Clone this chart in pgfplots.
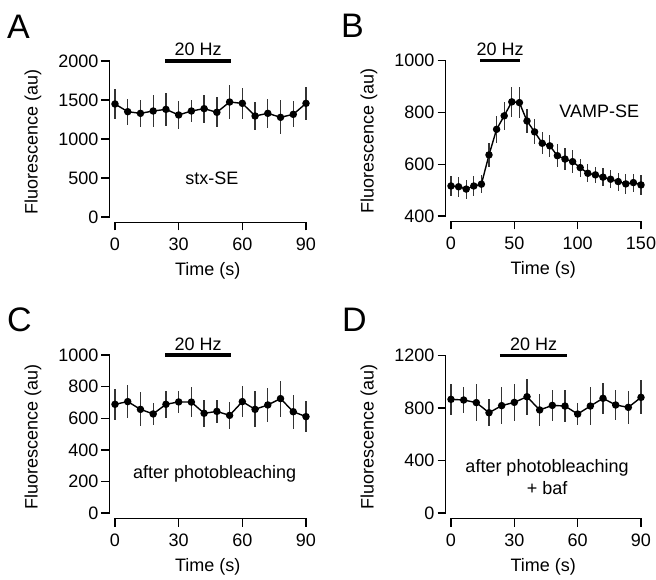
\documentclass[border=0pt]{standalone}
\usepackage{pgfplots}
\pgfplotsset{compat=1.18}
\usepackage{pgfplotstable}
\usepackage{fontspec}
\setmainfont{Liberation Sans}

% t = time (s), f = fluorescence (au), e = error
\pgfplotstableread{
t f e
0 1449 188
6 1350 167
12 1329 171
18 1359 209
24 1380 213
30 1308 177
36 1359 139
42 1389 180
48 1342 192
54 1474 213
60 1457 197
66 1295 175
72 1329 182
78 1278 216
84 1316 167
90 1457 209
}\stxdata

\pgfplotstableread{
t f e
0 516 39
6 513 39
12 504 37
18 516 39
24 523 35
30 636 45
36 735 52
42 787 55
48 841 58
54 838 61
60 767 48
66 725 48
72 681 42
78 671 42
84 633 45
90 620 42
96 610 45
102 587 35
108 565 35
114 559 32
120 550 35
126 542 35
132 533 35
138 524 39
144 529 35
150 520 39
}\vampdata

\pgfplotstableread{
t f e
0 688 97
6 705 105
12 656 108
18 627 70
24 688 86
30 703 70
36 702 93
42 631 86
48 643 74
54 618 84
60 705 97
66 656 114
72 684 105
78 724 114
84 641 108
90 610 97
}\pbdata

\pgfplotstableread{
t f e
0 867 117
6 862 102
12 842 140
18 765 104
24 819 140
30 844 140
36 887 137
42 786 120
48 821 117
54 816 120
60 755 86
66 816 145
72 875 117
78 824 117
84 806 127
90 882 130
}\bafdata

\pgfplotsset{
  panel/.style={
    scale only axis,
    clip=false,
    axis x line*=bottom,
    axis y line*=left,
    axis line style={draw=none},
    every tick/.style={black, line width=1.4pt},
    major tick length=8pt,
    tick align=outside,
    font=\fontsize{18}{21}\selectfont,
    /pgf/number format/assume math mode=true,
    /pgf/number format/1000 sep={},
    yticklabel style={xshift=0.5pt},
    xticklabel style={yshift=-4pt},
    xlabel={Time (s)},
    ylabel={Fluorescence (au)},
    xlabel style={at={(axis description cs:0.5,0)}, anchor=center, yshift=-48pt},
    ylabel style={at={(axis description cs:0,0.5)}, anchor=center, yshift=76.5pt},
  },
  series/.style={black, line width=1.4pt, mark=*, mark size=3pt,
    mark options={fill=black, draw=black},
    error bars/.cd, y dir=both, y explicit, error mark=none,
    error bar style={line width=1.3pt, black!80}},
}
\tikzset{
  axln/.style={line width=1.4pt, line cap=rect},
  stim/.style={line width=3.5pt},
  letter/.style={font=\fontsize{34}{36}\selectfont, anchor=base west, inner sep=0pt},
}

\begin{document}
\begin{tikzpicture}
\useasboundingbox (0,0) rectangle (656pt,579pt);
\node[letter] at (7pt,540pt) {A};
\node[letter] at (341pt,541pt) {B};
\node[letter] at (7pt,247pt) {C};
\node[letter] at (342pt,247pt) {D};

% A
\begin{axis}[panel, at={(109.5pt,356.5pt)}, width=196.5pt, height=161.5pt,
  xmin=-2.59, xmax=90, ymin=-70.5, ymax=2000,
  xtick={0,30,60,90}, ytick={0,500,1000,1500,2000}]
\addplot[series] table[x=t, y=f, y error=e] {\stxdata};
\draw[axln] (axis cs:-2.59,0) -- (axis cs:-2.59,2000);
\draw[axln] (axis cs:0,-70.5) -- (axis cs:90,-70.5);
\draw[stim] (axis cs:23.6,2000) -- (axis cs:54.7,2000)
  node[midway, anchor=base, yshift=5pt] {20 Hz};
\node at (axis cs:45.6,500) {stx-SE};
\end{axis}

% B
\begin{axis}[panel, at={(445.5pt,357.5pt)}, width=195.5pt, height=160.8pt,
  xmin=-4.34, xmax=150, ymin=378.75, ymax=1000,
  xtick={0,50,100,150}, ytick={400,600,800,1000}]
\addplot[series] table[x=t, y=f, y error=e] {\vampdata};
\draw[axln] (axis cs:-4.34,400) -- (axis cs:-4.34,1000);
\draw[axln] (axis cs:0,378.75) -- (axis cs:150,378.75);
\draw[stim] (axis cs:23,1000) -- (axis cs:54.5,1000)
  node[midway, anchor=base, yshift=5pt] {20 Hz};
\node at (axis cs:117,804) {VAMP-SE};
\end{axis}

% C
\begin{axis}[panel, at={(109.5pt,60.5pt)}, width=196.5pt, height=163.5pt,
  xmin=-2.59, xmax=90, ymin=-34.8, ymax=1000,
  xtick={0,30,60,90}, ytick={0,200,400,600,800,1000}]
\addplot[series] table[x=t, y=f, y error=e] {\pbdata};
\draw[axln] (axis cs:-2.59,0) -- (axis cs:-2.59,1000);
\draw[axln] (axis cs:0,-34.8) -- (axis cs:90,-34.8);
\draw[stim] (axis cs:23.6,1000) -- (axis cs:54.7,1000)
  node[midway, anchor=base, yshift=5pt] {20 Hz};
\node at (axis cs:47,247) {after photobleaching};
\end{axis}

% D
\begin{axis}[panel, at={(445.5pt,60.5pt)}, width=195.5pt, height=162.8pt,
  xmin=-2.605, xmax=90, ymin=-41.96, ymax=1200,
  xtick={0,30,60,90}, ytick={0,400,800,1200}]
\addplot[series] table[x=t, y=f, y error=e] {\bafdata};
\draw[axln] (axis cs:-2.605,0) -- (axis cs:-2.605,1200);
\draw[axln] (axis cs:0,-41.96) -- (axis cs:90,-41.96);
\draw[stim] (axis cs:23.2,1200) -- (axis cs:55,1200)
  node[midway, anchor=base, yshift=5pt] {20 Hz};
\node[align=center, font=\fontsize{18}{22}\selectfont] at (axis cs:45.5,275) {after photobleaching\\+ baf};
\end{axis}
\end{tikzpicture}
\end{document}
